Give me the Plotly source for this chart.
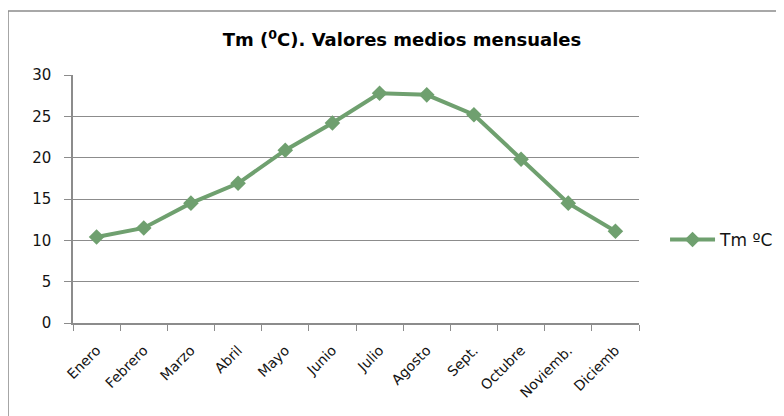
import plotly.graph_objects as go

months = ['Enero', 'Febrero', 'Marzo', 'Abril', 'Mayo', 'Junio',
          'Julio', 'Agosto', 'Sept.', 'Octubre', 'Noviemb.', 'Diciemb']
tm_values = [10.4, 11.5, 14.5, 16.9, 20.9, 24.2, 27.8, 27.6, 25.2, 19.8, 14.5, 11.1]
y_ticks = [0, 5, 10, 15, 20, 25, 30]

LINE_GREEN = 'rgb(111,160,111)'
GRID_GREY = 'rgb(140,140,140)'
FONT = 'DejaVu Sans, Verdana, sans-serif'

fig = go.Figure()
fig.add_trace(go.Scatter(
    x=months, y=tm_values,
    mode='lines+markers',
    name='Tm ºC',
    line=dict(color=LINE_GREEN, width=4),
    marker=dict(symbol='diamond', size=12, color=LINE_GREEN)
))

# page has 8px body margin, so margins are shifted by 8px
fig.update_layout(
    width=784, height=416,
    margin=dict(l=65, r=153, t=67, b=101),
    plot_bgcolor='white',
    paper_bgcolor='white',
    font=dict(family=FONT, size=13, color='rgb(20,20,20)'),
    title=dict(
        text='<b>Tm (<sup>0</sup>C). Valores medios mensuales</b>',
        x=0.5026, xanchor='center', y=0.923, yanchor='middle',
        font=dict(family=FONT, size=18, color='black')
    ),
    showlegend=True,
    legend=dict(
        x=1.046, xanchor='left', y=0.335, yanchor='middle',
        font=dict(family=FONT, size=17, color='rgb(20,20,20)'),
        bgcolor='rgba(0,0,0,0)',
        itemwidth=45
    ),
    # outer chart border
    shapes=[dict(
        type='rect', xref='paper', yref='paper',
        x0=-0.1148, x1=1.4, y0=-0.6, y1=1.258,
        line=dict(color=GRID_GREY, width=1.5),
        layer='below'
    )]
)

fig.update_xaxes(
    type='category',
    tickangle=-45,
    ticks='outside',
    tickson='boundaries',
    ticklen=6,
    tickcolor=GRID_GREY,
    showline=True,
    linecolor=GRID_GREY,
    linewidth=1.5,
    showgrid=False,
    ticklabelstandoff=12,
    tickfont=dict(family=FONT, size=14, color='rgb(20,20,20)'),
    range=[-0.5, 11.5]
)
fig.update_yaxes(
    range=[0, 30],
    tickvals=y_ticks,
    ticks='outside',
    ticklen=7,
    tickcolor=GRID_GREY,
    showline=True,
    linecolor=GRID_GREY,
    linewidth=1.5,
    gridcolor=GRID_GREY,
    gridwidth=1,
    zeroline=False,
    ticklabelstandoff=10,
    tickfont=dict(family=FONT, size=15, color='rgb(20,20,20)')
)

fig.write_html("out.html")
